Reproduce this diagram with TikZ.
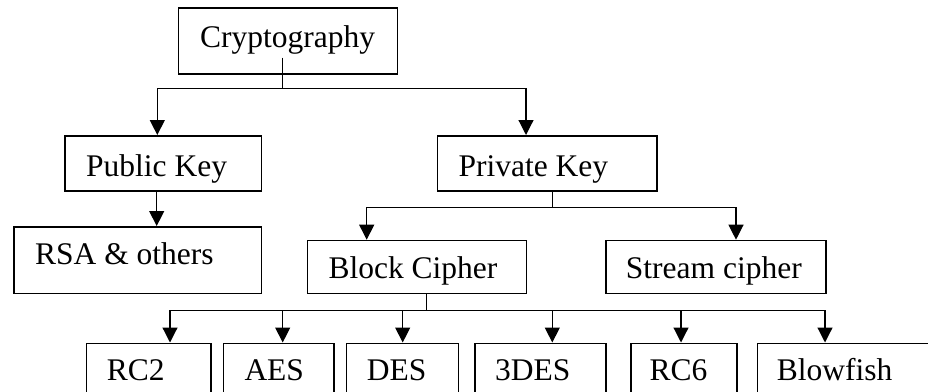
\documentclass[tikz,border=0pt]{standalone}
\usepackage{fontspec}
\setmainfont{Liberation Serif}
\usetikzlibrary{arrows.meta}
\begin{document}
\begin{tikzpicture}[x=1pt,y=-1pt,
  box/.style={draw, line width=1.5pt, inner sep=0pt, anchor=north west},
  lbl/.style={inner sep=0pt, anchor=base west, font=\fontsize{31.5}{36}\selectfont},
  wire/.style={line width=1.2pt},
  arr/.style={line width=1.2pt, -{Triangle[width=15pt,length=15pt]}}]
\useasboundingbox (0,0) rectangle (928,391);
\begin{scope}
\clip (0,0) rectangle (928,391);
% boxes
\node[box, minimum width=219pt, minimum height=66pt] (crypto) at (177.7,7.3) {};
\node[box, minimum width=196.4pt, minimum height=55pt] (pub) at (64.3,135) {};
\node[box, minimum width=219.3pt, minimum height=55pt] (priv) at (436.7,135) {};
\node[box, minimum width=247.4pt, minimum height=66.7pt] (rsa) at (13.3,226) {};
\node[box, minimum width=219pt, minimum height=53pt] (block) at (306.7,239.7) {};
\node[box, minimum width=220pt, minimum height=53pt] (stream) at (605,239.7) {};
\node[box, minimum width=124.3pt, minimum height=60pt] (rc2) at (85.7,342.5) {};
\node[box, minimum width=110.6pt, minimum height=60pt] (aes) at (222.7,342.5) {};
\node[box, minimum width=112pt, minimum height=60pt] (des) at (345.7,342.5) {};
\node[box, minimum width=130.7pt, minimum height=60pt] (tdes) at (474.3,342.5) {};
\node[box, minimum width=106pt, minimum height=60pt] (rc6) at (630,342.5) {};
\node[box, minimum width=200pt, minimum height=60pt] (blow) at (756.7,342.5) {};
% labels
\node[lbl] (tcrypto) at (200,47.7) {Cryptography};
\node[lbl] (tpub) at (86,176) {Public Key};
\node[lbl] (tpriv) at (458.3,176) {Private Key};
\node[lbl] (trsa) at (35,264) {RSA \& others};
\node[lbl] (tblock) at (328.3,278.3) {Block Cipher};
\node[lbl] (tstream) at (625.7,278.3) {Stream cipher};
\node[lbl] (trc2) at (106.7,380) {RC2};
\node[lbl] (taes) at (244.3,380) {AES};
\node[lbl] (tdes0) at (366.7,380) {DES};
\node[lbl] (ttdes) at (495,380) {3DES};
\node[lbl] (trc6) at (649.3,380) {RC6};
\node[lbl] (tblow) at (776.7,380) {Blowfish};
% junction points
\coordinate (c0) at (282.3,57.5);
\coordinate (c1) at (282.3,88.3);
\coordinate (p1) at (552.3,207.7);
\coordinate (b1) at (426.7,310.7);
% columns where the arrows drop into their boxes
\coordinate (xpub) at (157.3,0);
\coordinate (xpriv) at (526,0);
\coordinate (xpubs) at (156.7,0);
\coordinate (xprivs) at (552.3,0);
\coordinate (xblock) at (366.7,0);
\coordinate (xstream) at (736,0);
\coordinate (xblocks) at (426.7,0);
\coordinate (xrc2) at (170,0);
\coordinate (xaes) at (282.7,0);
\coordinate (xdes) at (402.7,0);
\coordinate (xtdes) at (552.3,0);
\coordinate (xrc6) at (681,0);
\coordinate (xblow) at (825,0);
% connectors
\draw[wire] (c0) -- (c1);
\draw[arr] (c1) -| (xpub |- pub.north);
\draw[arr] (c1) -| (xpriv |- priv.north);
\draw[arr] (xpubs |- pub.south) -- (xpubs |- rsa.north);
\draw[wire] (xprivs |- priv.south) -- (p1);
\draw[arr] (p1) -| (xblock |- block.north);
\draw[arr] (p1) -| (xstream |- stream.north);
\draw[wire] (xblocks |- block.south) -- (b1);
\draw[arr] (b1) -| (xrc2 |- rc2.north);
\draw[arr] (b1) -| (xaes |- aes.north);
\draw[arr] (b1) -| (xdes |- des.north);
\draw[arr] (b1) -| (xtdes |- tdes.north);
\draw[arr] (b1) -| (xrc6 |- rc6.north);
\draw[arr] (b1) -| (xblow |- blow.north);
\end{scope}
\end{tikzpicture}
\end{document}
